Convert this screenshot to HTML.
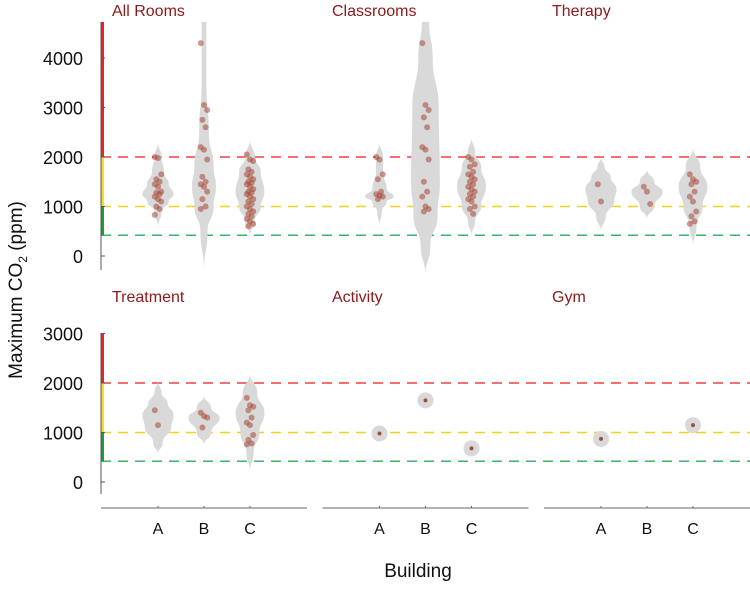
<!DOCTYPE html>
<html><head><meta charset="utf-8"><style>
body{margin:0;background:#fff;}
svg text{font-family:"Liberation Sans",sans-serif;}
</style></head><body>
<svg id="chart" width="750" height="584" viewBox="0 0 750 584">
<text x="22" y="290" transform="rotate(-90 22 290)" text-anchor="middle" font-size="19" fill="#111">Maximum CO<tspan font-size="12" dy="5">2</tspan><tspan dy="-5"> (ppm)</tspan></text>
<text x="418" y="577" text-anchor="middle" font-size="19" fill="#111">Building</text>
</svg>
<script>
const panelTitles = ["All Rooms","Classrooms","Therapy","Treatment","Activity","Gym"];
const buildings = ["A","B","C"];
const thresholds = [2000,1000,420];
const topTicks = [0,1000,2000,3000,4000];
const bottomTicks = [0,1000,2000,3000];
// violin profiles: [value, halfwidth-units]
const violins = [
 [[[580,0],[900,3],[1100,9],[1250,13],[1450,9],[1700,5],[2000,3],[2300,0]],
  [[-300,0],[500,3],[1000,8],[1400,10],[1800,8],[2500,4],[3500,2],[4730,2]],
  [[400,0],[700,4],[1000,9],[1300,12],[1700,9],[2000,4],[2350,0]]],
 [[[600,0],[900,2],[1100,6],[1200,12],[1350,6],[1700,3],[2000,3],[2300,0]],
  [[-400,0],[200,4],[800,10],[1500,12],[3000,11],[4000,6],[4730,3]],
  [[400,0],[700,3],[1000,8],[1400,12],[1800,8],[2100,3],[2400,0]]],
 [[[500,0],[800,4],[1100,11],[1350,13],[1600,8],[1800,3],[2000,0]],
  [[750,0],[1000,6],[1300,13],[1500,6],[1750,0]],
  [[200,0],[600,3],[1000,8],[1400,12],[1800,6],[2200,0]]],
 [[[550,0],[800,4],[1100,11],[1350,13],[1600,8],[1800,3],[2050,0]],
  [[750,0],[1000,6],[1300,13],[1500,6],[1750,0]],
  [[200,0],[600,3],[1000,8],[1400,12],[1800,6],[2200,0]]],
 [[[980,"dot"]],[[1650,"dot"]],[[680,"dot"]]],
 [[[870,"dot"]],[],[[1150,"dot"]]]
];
const points = [
 [[2000,1980,1650,1550,1500,1450,1400,1300,1280,1250,1200,1150,1100,1000,950,830],
  [4300,3050,2950,2750,2600,2200,2150,1950,1600,1500,1450,1400,1300,1150,1000,950],
  [2050,1950,1920,1750,1700,1650,1600,1550,1500,1480,1450,1400,1350,1300,1280,1250,1200,1150,1100,1050,1000,950,900,850,800,750,700,650,600]],
 [[2000,1950,1650,1550,1300,1250,1220,1200,1150],
  [4300,3050,2950,2800,2600,2200,2150,1950,1500,1300,1200,1000,950,900],
  [2000,1950,1850,1800,1700,1650,1600,1550,1500,1450,1400,1350,1300,1250,1200,1150,1100,1000,950,850]],
 [[1450,1100],[1400,1300,1050],[1650,1550,1500,1450,1300,1200,1100,900,800,700,650]],
 [[1450,1150],[1400,1330,1300,1100],[1700,1550,1520,1450,1300,1200,1150,950,850,780,760]],
 [[980],[1650],[680]],
 [[870],[],[1150]]
];
const svg = document.getElementById('chart');
const NS = 'http://www.w3.org/2000/svg';
function mk(tag, attrs, parent){const e=document.createElementNS(NS,tag);for(const k in attrs)e.setAttribute(k,attrs[k]);(parent||svg).appendChild(e);return e;}
const scaleK = 49.5/1000;
const widthK = 1.2;
function yScale(row, v){return (row===0?256:482) - v*scaleK;}
function xScale(p, b){return 158 + (p%3)*221.5 + b*46;}
const rowTop = [22,333], rowBot=[270,494];
const thColors=["#f04040","#f2d21a","#3cb36a"];
for(let r=0;r<2;r++){
  const g=mk('g',{});
  
  
  thresholds.forEach((t,i)=>{
    const l=mk('line',{x1:101,x2:750,y1:yScale(r,t),y2:yScale(r,t),stroke:thColors[i],'stroke-width':1.5,'stroke-dasharray':'10 7'},g);
    
    
  });
  const yTop=rowTop[r];
  const bars=[[yTop,yScale(r,2000),'#e8222a'],[yScale(r,2000),yScale(r,1000),'#f5e21c'],[yScale(r,1000),yScale(r,420),'#1f9a3c']];
  bars.forEach((b,i)=>{const rc=mk('rect',{x:101,y:b[0],width:3,height:b[1]-b[0],fill:b[2]},g);
    
    });
  mk('line',{x1:101,x2:101,y1:yTop,y2:rowBot[r],stroke:'#555','stroke-width':1},g);
  const ticks=r===0?topTicks:bottomTicks;
  ticks.forEach(t=>{
    const y=yScale(r,t);
    mk('line',{x1:101,x2:105,y1:y,y2:y,stroke:'#555'},g);
    const tx=mk('text',{x:83,y:y+7,'text-anchor':'end','font-size':18,fill:'#111'},g);
    tx.textContent=t;
    
    
  });
}
for(let p=0;p<3;p++){
  const x0=101+p*221.5;
  const l=mk('line',{x1:x0,x2:x0+206,y1:508,y2:508,stroke:'#666','stroke-width':1});
  
  
  buildings.forEach((b,i)=>{
    const x=xScale(p,i);
    mk('line',{x1:x,x2:x,y1:506,y2:508,stroke:'#666'});
    const t=mk('text',{x:x,y:534,'text-anchor':'middle','font-size':16,fill:'#111'});
    t.textContent=b;
    
    
  });
}
panelTitles.forEach((title,p)=>{
  const r=p<3?0:1;
  const g=mk('g',{});
  
  
  const t=mk('text',{x:112+(p%3)*220,y:r===0?16:302,'font-size':16,fill:'#8b1a1a'},g);
  t.textContent=title;
  
  
  violins[p].forEach((prof,b)=>{
    const cx=xScale(p,b);
    if(!prof.length) return;
    if(prof[0][1]==="dot"){
      const c=mk('circle',{cx:cx,cy:yScale(r,prof[0][0]),r:8,fill:'#d9d9d9'},g);
      
      
      return;
    }
    const right=prof.map(q=>[cx+q[1]*widthK,yScale(r,q[0])]);
    const left=prof.slice().reverse().map(q=>[cx-q[1]*widthK,yScale(r,q[0])]);
    const pts=right.concat(left);
    let d='M'+pts[0][0]+','+pts[0][1];
    for(let i=1;i<pts.length;i++){
      const a=pts[i-1],c=pts[i];
      const my=(a[1]+c[1])/2;
      d+=' C'+a[0]+','+my+' '+c[0]+','+my+' '+c[0]+','+c[1];
    }
    const v=mk('path',{d:d+'Z',fill:'#d9d9d9'},g);
    
    
  });
  points[p].forEach((vals,b)=>{
    const cx=xScale(p,b);
    const single=vals.length===1 && violins[p][b].length && violins[p][b][0][1]==="dot";
    vals.forEach((v,i)=>{
      const jx=single?0:((i*7)%5-2)*1.6;
      const c=mk('circle',{cx:cx+jx,cy:yScale(r,v),r:single?2:3,fill:single?'#a0503a':'rgba(165,70,50,0.55)'},g);
      
      
    });
  });
});
</script>
</body></html>
